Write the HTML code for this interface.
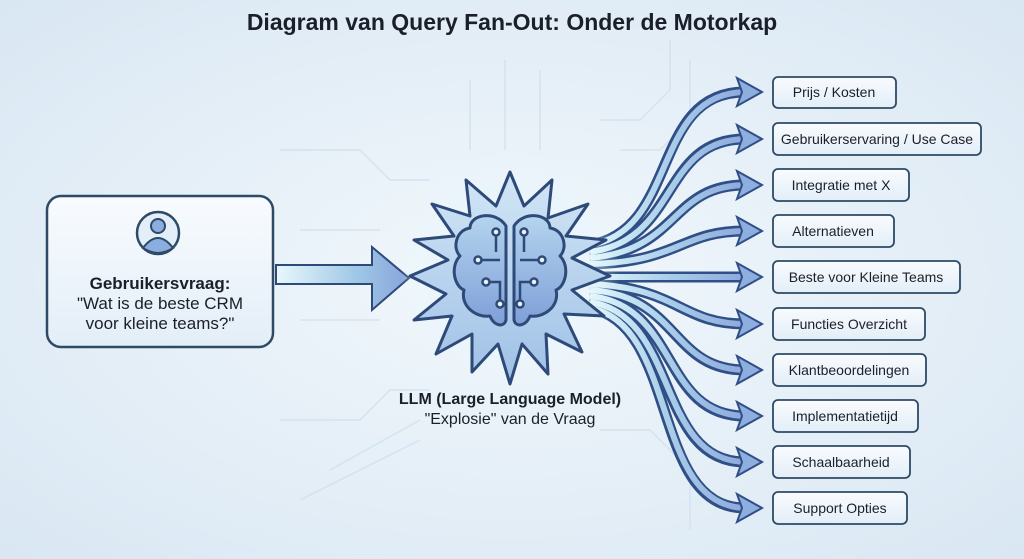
<!DOCTYPE html>
<html><head><meta charset="utf-8"><style>
body{margin:0;width:1024px;height:559px;overflow:hidden;font-family:"Liberation Sans",sans-serif;background:#dce8f3;}
svg{display:block;}
</style></head><body>
<svg width="1024" height="559" viewBox="0 0 1024 559" xmlns="http://www.w3.org/2000/svg">
<defs>
<radialGradient id="bg" cx="0.5" cy="0.5" r="0.7">
<stop offset="0" stop-color="#f2f8fc"/><stop offset="1" stop-color="#d9e7f3"/></radialGradient>
<radialGradient id="glow" cx="0.5" cy="0.5" r="0.5">
<stop offset="0" stop-color="#ffffff"/><stop offset="0.5" stop-color="#e6f6fc" stop-opacity="0.9"/><stop offset="1" stop-color="#e6f6fc" stop-opacity="0"/></radialGradient>
<linearGradient id="star" x1="0" y1="0" x2="0" y2="1">
<stop offset="0" stop-color="#d2e6f6"/><stop offset="1" stop-color="#9fc0e6"/></linearGradient>
<linearGradient id="brain" x1="0" y1="0" x2="0" y2="1">
<stop offset="0" stop-color="#b4d4ee"/><stop offset="1" stop-color="#7f9fd8"/></linearGradient>
<linearGradient id="box" x1="0" y1="0" x2="0" y2="1">
<stop offset="0" stop-color="#f8fbfe"/><stop offset="1" stop-color="#e3eef8"/></linearGradient>
<linearGradient id="arr" gradientUnits="userSpaceOnUse" x1="590" y1="0" x2="750" y2="0">
<stop offset="0" stop-color="#e0f7fc"/><stop offset="0.5" stop-color="#a9cde9"/><stop offset="1" stop-color="#8ba6dc"/></linearGradient>
<linearGradient id="big" x1="0" y1="0" x2="1" y2="0">
<stop offset="0" stop-color="#e8f8fc"/><stop offset="0.6" stop-color="#9fc8e6"/><stop offset="1" stop-color="#88a4dc"/></linearGradient>
</defs>
<rect width="1024" height="559" fill="url(#bg)"/>
<g stroke="#cfe0ee" stroke-width="1.5" fill="none" opacity="0.8">
<path d="M280 150 H360 L390 180 H430"/><path d="M280 420 H360 L390 390 H430"/>
<path d="M600 120 H640 L670 90 V40"/><path d="M620 150 H660 L690 120 V60"/>
<path d="M600 430 H650 L690 470 V530"/><path d="M300 230 H380"/><path d="M300 320 H380"/>
<path d="M330 470 L420 420"/><path d="M300 500 L420 440"/><path d="M470 80 V150"/><path d="M540 70 V150"/><path d="M505 60 V150"/>
</g>
<text x="512" y="30" text-anchor="middle" font-size="23" font-weight="bold" fill="#1b1f2a">Diagram van Query Fan-Out: Onder de Motorkap</text>

<rect x="47" y="196" width="226" height="151" rx="14" fill="url(#box)" stroke="#2e4a66" stroke-width="2.5"/>
<circle cx="158" cy="233" r="21" fill="#e4eef8" stroke="#2e4a66" stroke-width="2.5"/>
<circle cx="158" cy="226" r="7" fill="#8aaee0" stroke="#2e4a66" stroke-width="2"/>
<path d="M143 248 Q158 228 173 248 Q158 258 143 248Z" fill="#8aaee0" stroke="#2e4a66" stroke-width="2"/>
<text x="160" y="289" text-anchor="middle" font-size="17" font-weight="bold" fill="#1b1f2a">Gebruikersvraag:</text>
<text x="160" y="309" text-anchor="middle" font-size="17" fill="#1b1f2a">"Wat is de beste CRM</text>
<text x="160" y="329" text-anchor="middle" font-size="17" fill="#1b1f2a">voor kleine teams?"</text>

<path d="M276 265 H372 V247 L409 278 L372 310 V284 H276Z" fill="url(#big)" stroke="#2e4a78" stroke-width="2"/>

<g fill="none" stroke-linecap="butt">
<g stroke="#2f4f86" stroke-width="11">
<path d="M590 245 C680 230 650 92 745 92"/>
<path d="M590 252 C680 240 660 139 745 139"/>
<path d="M590 258 C680 250 670 185 745 185"/>
<path d="M590 264 C680 262 680 231 745 231"/>
<path d="M590 277 H745"/>
<path d="M590 284 C680 288 680 324 745 324"/>
<path d="M590 290 C680 296 670 370 745 370"/>
<path d="M590 296 C680 306 660 416 745 416"/>
<path d="M590 302 C680 316 655 462 745 462"/>
<path d="M590 308 C680 325 650 508 745 508"/>
</g>
<g stroke="url(#arr)" stroke-width="6">
<path d="M590 245 C680 230 650 92 747 92"/>
<path d="M590 252 C680 240 660 139 747 139"/>
<path d="M590 258 C680 250 670 185 747 185"/>
<path d="M590 264 C680 262 680 231 747 231"/>
<path d="M590 277 H747"/>
<path d="M590 284 C680 288 680 324 747 324"/>
<path d="M590 290 C680 296 670 370 747 370"/>
<path d="M590 296 C680 306 660 416 747 416"/>
<path d="M590 302 C680 316 655 462 747 462"/>
<path d="M590 308 C680 325 650 508 747 508"/>
</g>
</g>
<g fill="#8eaee0" stroke="#2f4f86" stroke-width="2">
<path d="M737 78 L762 92 L737 106 L742 92Z"/>
<path d="M737 125 L762 139 L737 153 L742 139Z"/>
<path d="M737 171 L762 185 L737 199 L742 185Z"/>
<path d="M737 217 L762 231 L737 245 L742 231Z"/>
<path d="M737 263 L762 277 L737 291 L742 277Z"/>
<path d="M737 310 L762 324 L737 338 L742 324Z"/>
<path d="M737 356 L762 370 L737 384 L742 370Z"/>
<path d="M737 402 L762 416 L737 430 L742 416Z"/>
<path d="M737 448 L762 462 L737 476 L742 462Z"/>
<path d="M737 494 L762 508 L737 522 L742 508Z"/>
</g>

<circle cx="510" cy="272" r="110" fill="url(#glow)"/>
<path d="M510 172 L524 206 L552 180 L548 218 L588 204 L566 236 L606 240 L572 258 L610 276 L572 290 L604 316 L564 314 L582 352 L546 334 L548 374 L522 344 L510 384 L498 344 L472 372 L472 334 L436 354 L452 316 L414 320 L446 294 L410 276 L448 260 L414 240 L454 236 L432 204 L470 216 L466 180 L496 206Z" fill="url(#star)" stroke="#2e4a78" stroke-width="3" stroke-linejoin="round"/>
<g fill="url(#brain)" stroke="#2e4a78" stroke-width="3" stroke-linejoin="round">
<path d="M506 226 C496 210 470 214 470 228 C456 230 452 248 460 256 C450 266 454 286 464 290 C460 306 476 318 490 316 C494 326 504 328 506 320Z"/>
<path d="M514 226 C524 210 550 214 550 228 C564 230 568 248 560 256 C570 266 566 286 556 290 C560 306 544 318 530 316 C526 326 516 328 514 320Z"/>
</g>
<g stroke="#2e4a78" stroke-width="2.5" fill="#e8f2fb">
<path d="M496 232 V252 M478 260 H500 M486 282 L500 282 L500 304 M524 232 V252 M542 260 H520 M534 282 L520 282 L520 304" fill="none"/>
<circle cx="496" cy="232" r="3.5"/><circle cx="478" cy="260" r="3.5"/><circle cx="486" cy="282" r="3.5"/><circle cx="500" cy="304" r="3.5"/>
<circle cx="524" cy="232" r="3.5"/><circle cx="542" cy="260" r="3.5"/><circle cx="534" cy="282" r="3.5"/><circle cx="520" cy="304" r="3.5"/>
</g>
<text x="510" y="404" text-anchor="middle" font-size="16" font-weight="bold" fill="#1b1f2a">LLM (Large Language Model)</text>
<text x="510" y="424" text-anchor="middle" font-size="16" fill="#1b1f2a">"Explosie" van de Vraag</text>

<g fill="url(#box)" stroke="#2e4a66" stroke-width="1.8">
<rect x="773" y="77" width="123" height="31" rx="5"/>
<rect x="773" y="123" width="208" height="32" rx="5"/>
<rect x="773" y="169" width="136" height="32" rx="5"/>
<rect x="773" y="215" width="121" height="32" rx="5"/>
<rect x="773" y="261" width="187" height="32" rx="5"/>
<rect x="773" y="308" width="152" height="32" rx="5"/>
<rect x="773" y="354" width="153" height="32" rx="5"/>
<rect x="773" y="400" width="145" height="32" rx="5"/>
<rect x="773" y="446" width="137" height="32" rx="5"/>
<rect x="773" y="492" width="134" height="32" rx="5"/>
</g>
<g font-size="14" fill="#1b1f2a" text-anchor="middle">
<text x="834" y="97">Prijs / Kosten</text>
<text x="877" y="144">Gebruikerservaring / Use Case</text>
<text x="841" y="190">Integratie met X</text>
<text x="833" y="236">Alternatieven</text>
<text x="866" y="282">Beste voor Kleine Teams</text>
<text x="849" y="329">Functies Overzicht</text>
<text x="849" y="375">Klantbeoordelingen</text>
<text x="845" y="421">Implementatietijd</text>
<text x="841" y="467">Schaalbaarheid</text>
<text x="840" y="513">Support Opties</text>
</g>
</svg>
</body></html>
